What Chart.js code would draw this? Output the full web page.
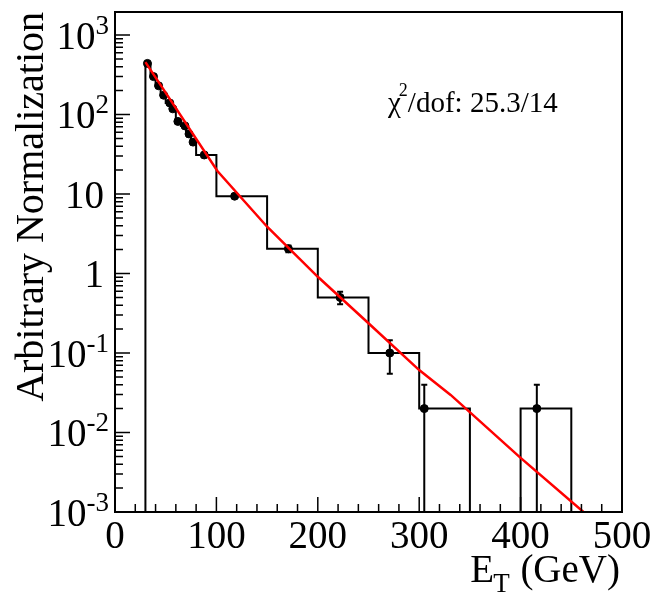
<!DOCTYPE html>
<html>
<head>
<meta charset="utf-8">
<script src="https://cdn.jsdelivr.net/npm/chart.js@4.4.1/dist/chart.umd.min.js"></script>
<style>
	html, body { margin: 0; padding: 0; background: #fff; }
	#wrap { width: 654px; height: 593px; }
</style>
</head>
<body>
<div id="wrap"><canvas id="etChart" width="654" height="593"></canvas></div>
<script>
// histogram bins (GeV) and contents
var binEdges = [30, 35, 40, 45, 50, 55, 60, 65, 70, 75, 80, 100, 150, 200, 250, 300, 350, 400, 450];
var binLevels = [440, 300, 230, 175, 140, 118, 82, 72, 57, 45, 31, 9.4, 2.05, 0.5, 0.1, 0.02, 0, 0.02];

// data points with errors
var pointX = [32, 38, 43, 48, 54, 57, 62, 69, 73, 77, 88, 118, 171, 222, 271, 305, 416];
var pointY = [440, 300, 230, 175, 140, 118, 82, 72, 57, 45, 31, 9.4, 2.05, 0.5, 0.1, 0.02, 0.02];
var pointErr = [12, 10, 8, 7, 6, 5, 4, 4, 3.5, 3, 2, 0.5, 0.2, 0.09, 0.045, 0.02, 0.02];

// fit curve
var fitX = [30, 101, 150, 200, 250, 300, 331, 400, 462];
var fitY = [457, 19.5, 3.88, 0.91, 0.237, 0.061, 0.0297, 0.0048, 0.001];

// axes
var xMin = 0, xMax = 500;
var yMin = 0.001, yMax = 1950;
var xTickLabels = ['0', '100', '200', '300', '400', '500'];
var yDecades = [-3, -2, -1, 0, 1, 2, 3];
var yTickLabels = [['10', '-3'], ['10', '-2'], ['10', '-1'], ['1', ''], ['10', ''], ['10', '2'], ['10', '3']];

var serif = '"Liberation Serif", "Times New Roman", serif';

// histogram outline from edges + levels
var histLine = [{ x: binEdges[0], y: yMin }];
for (var i = 0; i < binLevels.length; i++) {
	var lv = binLevels[i] > 0 ? binLevels[i] : yMin;
	histLine.push({ x: binEdges[i], y: lv });
	histLine.push({ x: binEdges[i + 1], y: lv });
}
histLine.push({ x: binEdges[binEdges.length - 1], y: yMin });

var pts = pointX.map(function (x, i) { return { x: x, y: pointY[i] }; });
var fitPts = fitX.map(function (x, i) { return { x: x, y: fitY[i] }; });

var whiteBg = {
	id: 'whiteBg',
	beforeDraw: function (chart) {
		var c = chart.ctx;
		c.save();
		c.fillStyle = '#fff';
		c.fillRect(0, 0, chart.width, chart.height);
		c.restore();
	}
};

// error bars for the points dataset (index 1)
var errorBars = {
	id: 'errorBars',
	afterDatasetDraw: function (chart, args) {
		if (args.index !== 1) return;
		var c = chart.ctx, xs = chart.scales.x, ys = chart.scales.y, a = chart.chartArea;
		c.save();
		c.beginPath();
		c.rect(a.left, a.top, a.right - a.left, a.bottom - a.top);
		c.clip();
		c.strokeStyle = '#000';
		c.lineWidth = 2;
		for (var i = 0; i < pointX.length; i++) {
			var px = xs.getPixelForValue(pointX[i]);
			var hi = ys.getPixelForValue(pointY[i] + pointErr[i]);
			var lo = pointY[i] - pointErr[i] > 0 ? ys.getPixelForValue(pointY[i] - pointErr[i]) : a.bottom;
			c.beginPath();
			c.moveTo(px, hi); c.lineTo(px, lo);
			c.moveTo(px - 3, hi); c.lineTo(px + 3, hi);
			if (lo < a.bottom) { c.moveTo(px - 3, lo); c.lineTo(px + 3, lo); }
			c.stroke();
		}
		c.restore();
	}
};

// ROOT-like frame, inner ticks and labels
var rootAxes = {
	id: 'rootAxes',
	afterDraw: function (chart) {
		var c = chart.ctx, xs = chart.scales.x, ys = chart.scales.y, a = chart.chartArea;
		c.save();
		c.strokeStyle = '#000';
		c.fillStyle = '#000';

		// ticks
		c.lineWidth = 1.5;
		c.beginPath();
		for (var v = xMin; v <= xMax; v += 20) {
			var px = xs.getPixelForValue(v);
			var len = (v % 100 === 0) ? 15 : 8;
			c.moveTo(px, a.bottom); c.lineTo(px, a.bottom - len);
		}
		for (var d = -3; d <= 3; d++) {
			for (var m = 1; m <= 9; m++) {
				var val = m * Math.pow(10, d);
				if (val > yMax) break;
				var py = ys.getPixelForValue(val);
				var l = (m === 1) ? 15 : 8;
				c.moveTo(a.left, py); c.lineTo(a.left + l, py);
			}
		}
		c.stroke();

		// frame
		c.lineWidth = 2;
		c.strokeRect(a.left, a.top, a.right - a.left, a.bottom - a.top);

		// x labels
		c.font = '39px ' + serif;
		c.textAlign = 'center';
		c.textBaseline = 'alphabetic';
		xTickLabels.forEach(function (t) {
			c.fillText(t, xs.getPixelForValue(Number(t)), 548);
		});

		// y labels with exponents
		c.textAlign = 'right';
		yDecades.forEach(function (d, i) {
			var py = ys.getPixelForValue(Math.pow(10, d));
			var base = yTickLabels[i][0], ex = yTickLabels[i][1];
			if (ex) {
				c.font = '27px ' + serif;
				var w = c.measureText(ex).width;
				c.fillText(ex, 109, py - 1.5);
				c.font = '39px ' + serif;
				c.fillText(base, 109 - w, py + 13.5);
			} else {
				c.font = '39px ' + serif;
				c.fillText(base, 104, py + 13.5);
			}
		});

		// x title: E_T (GeV)
		c.textAlign = 'left';
		c.font = '39px ' + serif;
		var wE = c.measureText('E').width;
		var wRest = c.measureText(' (GeV)').width;
		c.font = '27px ' + serif;
		var wT = c.measureText('T').width;
		var x0 = 620 - wE - wT - wRest;
		c.font = '39px ' + serif;
		c.fillText('E', x0, 582);
		c.fillText(' (GeV)', x0 + wE + wT, 582);
		c.font = '27px ' + serif;
		c.fillText('T', x0 + wE - 1, 592);

		// y title
		c.save();
		c.translate(43, a.top);
		c.rotate(-Math.PI / 2);
		c.font = '40px ' + serif;
		c.textAlign = 'right';
		c.fillText('Arbitrary Normalization', 0, 0);
		c.restore();

		// chi2 text
		c.textAlign = 'left';
		c.font = '29px ' + serif;
		c.fillText('\u03c7', 388, 112);
		var wc = c.measureText('\u03c7').width;
		c.font = '18px ' + serif;
		c.fillText('2', 388 + wc - 2, 96);
		var w2 = c.measureText('2').width;
		c.font = '29px ' + serif;
		c.fillText('/dof: 25.3/14', 388 + wc - 2 + w2, 112);

		c.restore();
	}
};

const ctx = document.getElementById('etChart');
new Chart(ctx, {
	type: 'scatter',
	data: {
		datasets: [{
			// fit, drawn on top
			type: 'line',
			data: fitPts,
			borderColor: '#ff0000',
			borderWidth: 2.5,
			pointRadius: 0,
			tension: 0
		}, {
			data: pts,
			backgroundColor: '#000',
			borderColor: '#000',
			pointRadius: 4,
			pointHoverRadius: 4
		}, {
			type: 'line',
			data: histLine,
			borderColor: '#000',
			borderWidth: 2,
			pointRadius: 0,
			tension: 0
		}]
	},
	options: {
		responsive: false,
		animation: false,
		events: [],
		layout: {
			padding: { left: 115, top: 12, right: 32, bottom: 81 }
		},
		scales: {
			x: {
				type: 'linear',
				min: xMin,
				max: xMax,
				display: false
			},
			y: {
				type: 'logarithmic',
				min: yMin,
				max: yMax,
				display: false
			}
		},
		plugins: {
			legend: { display: false },
			tooltip: { enabled: false }
		}
	},
	plugins: [whiteBg, errorBars, rootAxes]
});
</script>
</body>
</html>
